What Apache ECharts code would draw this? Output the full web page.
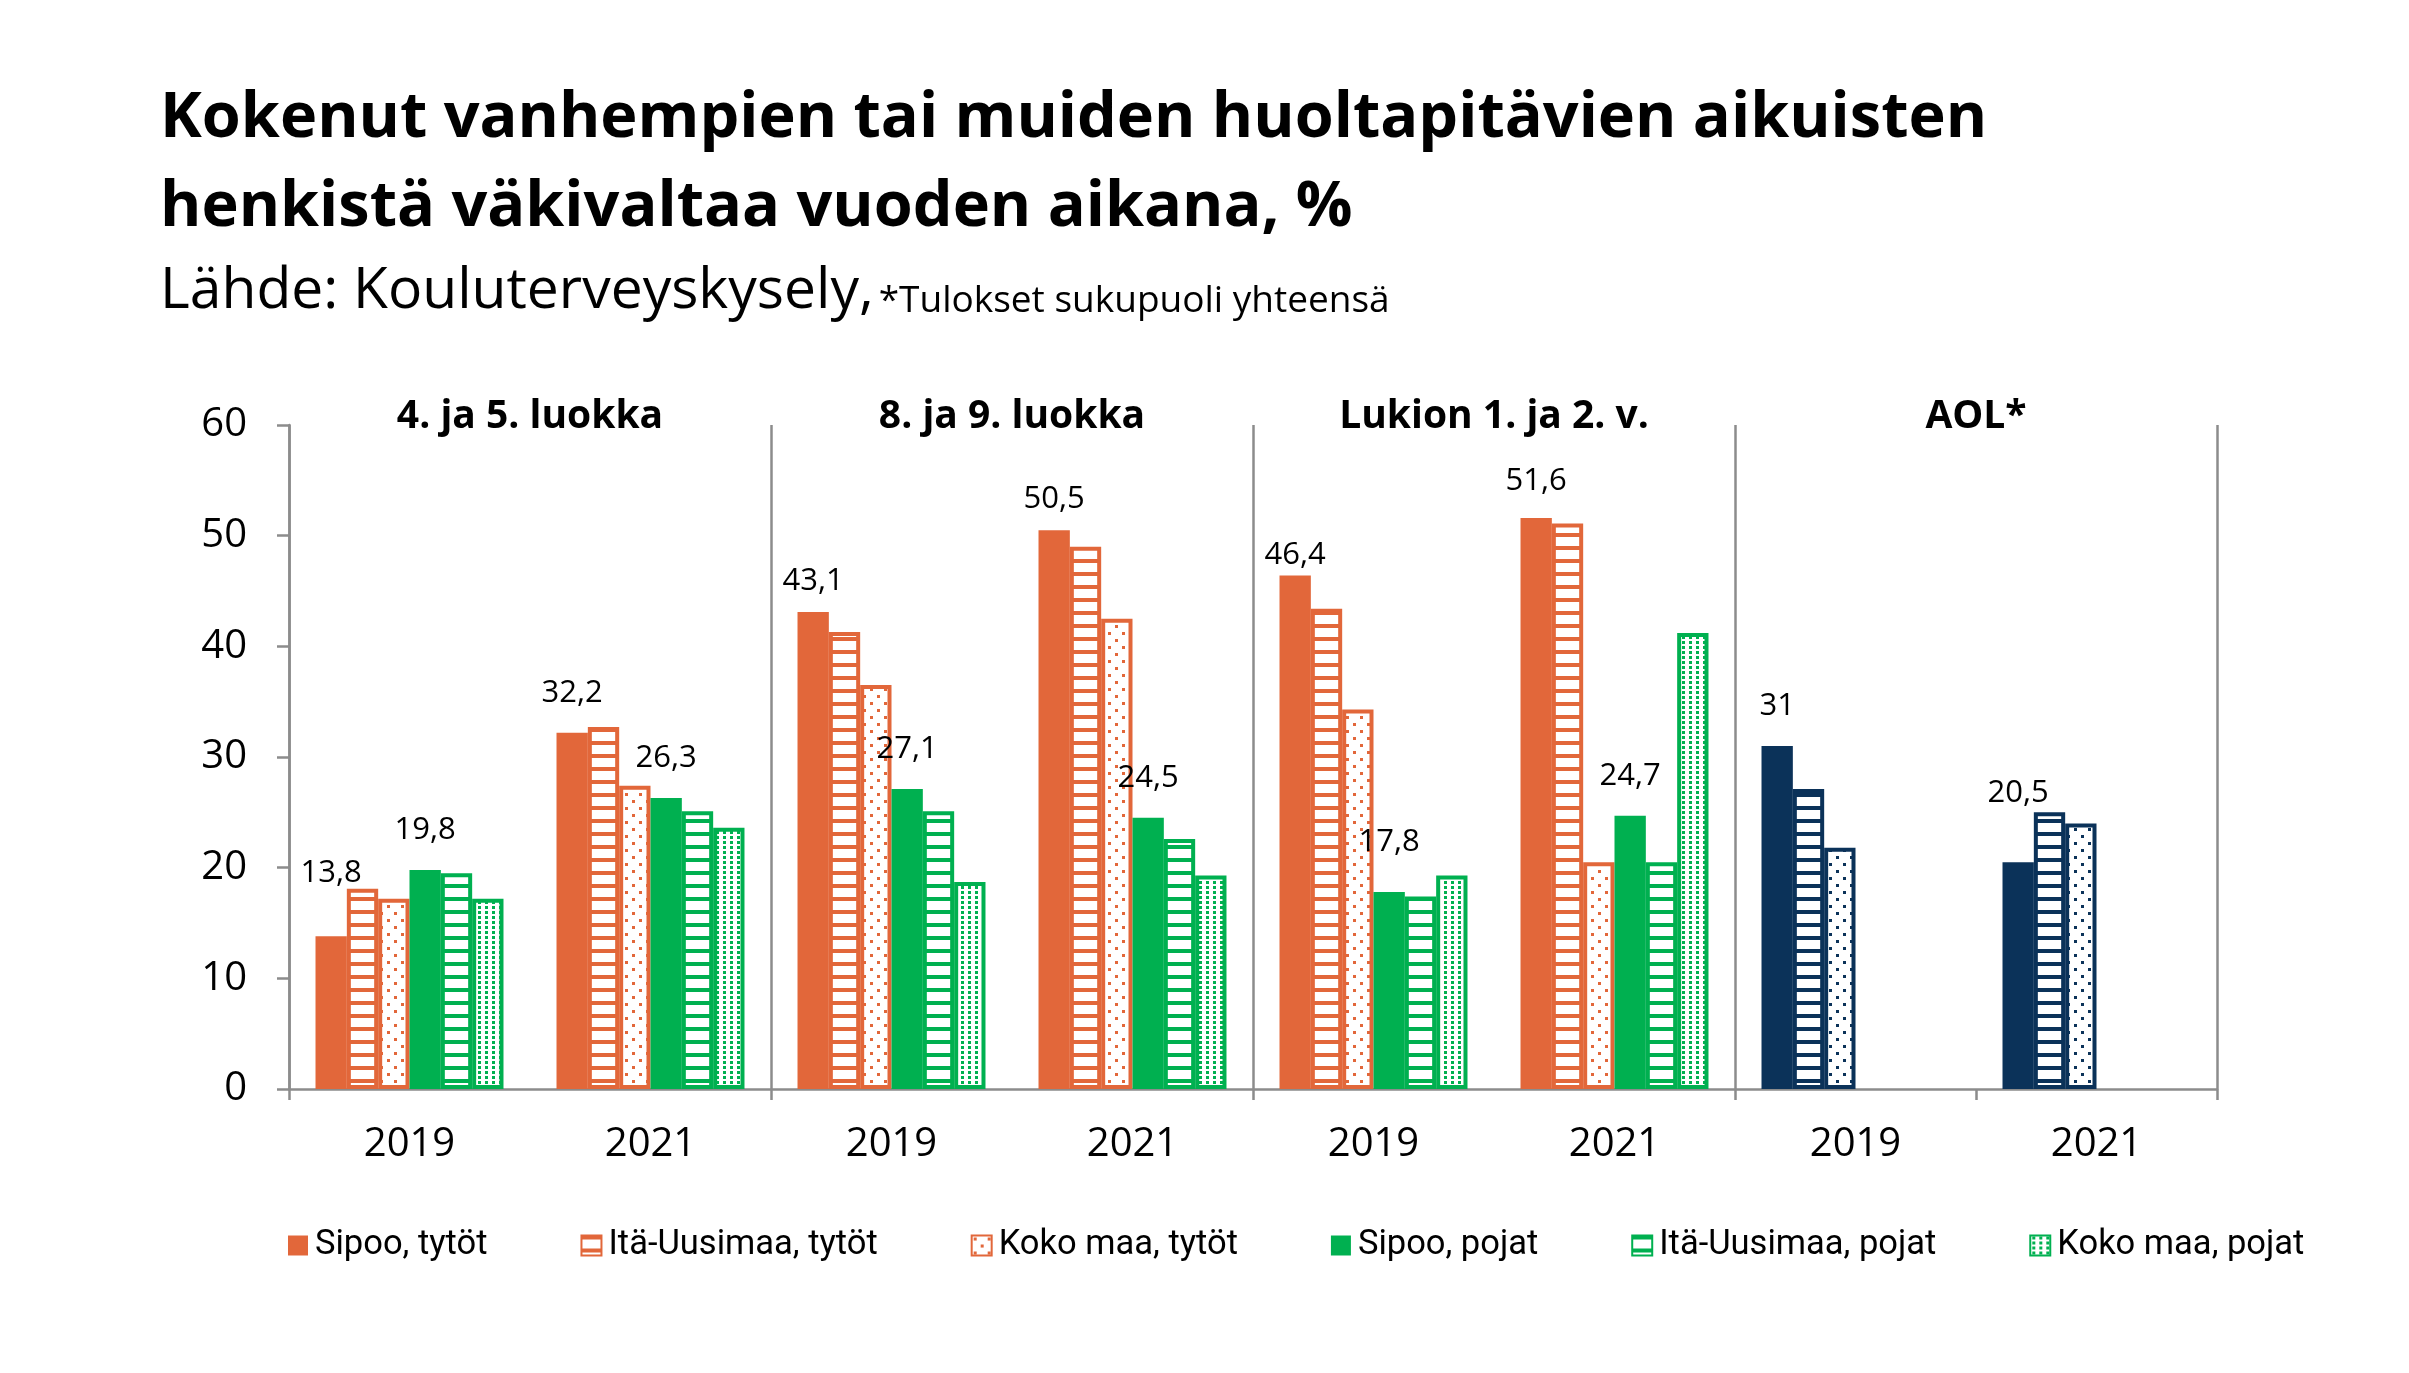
<!DOCTYPE html>
<html><head><meta charset="utf-8">
<script src="https://cdn.jsdelivr.net/npm/echarts@6/dist/echarts.min.js"></script>
<style>html,body{margin:0;padding:0;background:#fff}#c{width:2409px;height:1373px}</style>
</head><body><div id="c"></div>
<script>
// ---------- DATA ----------
const categories = ['2019', '2021', '2019', '2021', '2019', '2021', '2019', '2021'];
const panelTitles = ['4. ja 5. luokka', '8. ja 9. luokka', 'Lukion 1. ja 2. v.', 'AOL*'];
const seriesNames = ['Sipoo, tytöt', 'Itä-Uusimaa, tytöt', 'Koko maa, tytöt', 'Sipoo, pojat', 'Itä-Uusimaa, pojat', 'Koko maa, pojat'];
// school-level panels: 4.-5. (2019, 2021), 8.-9. (2019, 2021), Lukio (2019, 2021)
const sipooTytot      = [13.8, 32.2, 43.1, 50.5, 46.4, 51.6];
const itaUusimaaTytot = [18.1, 32.7, 41.3, 49.0, 43.4, 51.1];
const kokoMaaTytot    = [17.2, 27.4, 36.5, 42.5, 34.3, 20.5];
const sipooPojat      = [19.8, 26.3, 27.1, 24.5, 17.8, 24.7];
const itaUusimaaPojat = [19.5, 25.1, 25.1, 22.6, 17.4, 20.5];
const kokoMaaPojat    = [17.2, 23.6, 18.7, 19.3, 19.3, 41.2];
// AOL (sukupuoli yhteensä): 2019, 2021
const aolSipoo      = [31, 20.5];
const aolItaUusimaa = [27.1, 25.0];
const aolKokoMaa    = [21.8, 24.0];
const yTicks = [0, 10, 20, 30, 40, 50, 60];

// ---------- STYLE ----------
const F = "'Open Sans', sans-serif";
const ORANGE = '#E2673A', GREEN = '#00B050', NAVY = '#0B3259', AXIS = '#8C8C8C';

function makePattern(color, kind) {
  const c = document.createElement('canvas');
  let w = 8, h = 13;
  if (kind === 'dots') { w = 14; h = 14; }
  if (kind === 'fine') { w = 7; h = 5; }
  c.width = w; c.height = h;
  const g = c.getContext('2d');
  g.fillStyle = '#fff'; g.fillRect(0, 0, w, h);
  g.fillStyle = color;
  if (kind === 'stripes') g.fillRect(0, 0, w, 4);
  else if (kind === 'dots') { g.fillRect(2, 2, 3, 3); g.fillRect(9, 9, 3, 3); }
  else g.fillRect(2, 1, 3, 3);
  return { image: c, repeat: 'repeat' };
}
function styleFor(color, kind) {
  if (kind === 'solid') return { color: color, borderWidth: 0 };
  return { color: makePattern(color, kind), borderColor: color, borderWidth: 4 };
}

const groupVals = [sipooTytot, itaUusimaaTytot, kokoMaaTytot, sipooPojat, itaUusimaaPojat, kokoMaaPojat];
const aolVals = [aolSipoo, aolItaUusimaa, aolKokoMaa];
const kinds = ['solid', 'stripes', 'dots', 'solid', 'stripes', 'fine'];
const aolKinds = ['solid', 'stripes', 'dots'];
const sColors = [ORANGE, ORANGE, ORANGE, GREEN, GREEN, GREEN];
const labelled = [true, false, false, true, false, false];
// label lift above bar top (placement of the original's labels)
const labelLift = { '0-0': 48, '0-2': 15, '0-3': 15, '0-4': 5, '0-5': 21, '3-4': 34, '0-7': 53 };

const fmt = p => String(p.value).replace('.', ',');

const series = groupVals.map((vals, si) => {
  const data = [];
  for (let ci = 0; ci < categories.length; ci++) {
    let item;
    if (ci < vals.length) {
      item = { value: vals[ci] };
    } else if (si < 3) {
      item = { value: aolVals[si][ci - vals.length], itemStyle: styleFor(NAVY, aolKinds[si]) };
    } else {
      item = { value: null };
    }
    const key = si + '-' + ci;
    if (labelled[si] && labelLift[key] !== undefined) item.label = { distance: labelLift[key] };
    data.push(item);
  }
  return {
    name: seriesNames[si], type: 'bar', data: data,
    barGap: '0%', barCategoryGap: '22%',
    itemStyle: styleFor(sColors[si], kinds[si]),
    label: { show: labelled[si], position: 'top', distance: 24, fontSize: 31, color: '#000', fontFamily: F, formatter: fmt },
    emphasis: { disabled: true }
  };
});

const chart = echarts.init(document.getElementById('c'), null, { renderer: 'canvas' });
chart.setOption({
  animation: false,
  backgroundColor: '#fff',
  title: [
    { text: 'Kokenut vanhempien tai muiden huoltapitävien aikuisten\nhenkistä väkivaltaa vuoden aikana, %',
      left: 160, top: 75, padding: 0,
      textStyle: { fontSize: 63, fontWeight: 'bold', lineHeight: 89, color: '#000', fontFamily: F } },
    { text: '{a|Lähde: Kouluterveyskysely,} {b|*Tulokset sukupuoli yhteensä}',
      left: 160, top: 254, padding: 0,
      textStyle: { fontWeight: 'normal', rich: {
        a: { fontSize: 57, fontWeight: 'normal', lineHeight: 66, verticalAlign: 'bottom', color: '#000', fontFamily: F },
        b: { fontSize: 37, fontWeight: 'normal', lineHeight: 52, verticalAlign: 'bottom', color: '#000', fontFamily: F }
      } } }
  ],
  legend: {
    left: 288, top: 1228, padding: 0, itemWidth: 20, itemHeight: 20, itemGap: 93, icon: 'rect',
    data: seriesNames,
    textStyle: { fontSize: 34.5, color: '#000', fontFamily: "'Roboto', sans-serif", padding: [0, 0, 0, 2] }
  },
  grid: { left: 289, right: 192, top: 425, bottom: 284, containLabel: false, outerBoundsMode: 'none' },
  xAxis: [
    { type: 'category', data: categories, position: 'bottom',
      axisLine: { lineStyle: { color: AXIS, width: 2.5 } },
      axisTick: { show: true, interval: 1, length: 11, lineStyle: { color: AXIS, width: 2.5 } },
      axisLabel: { interval: 0, fontSize: 40, color: '#000', margin: 36, fontFamily: F },
      splitLine: { show: false } },
    { type: 'category', data: panelTitles, position: 'top',
      axisLine: { show: false }, axisTick: { show: false },
      axisLabel: { interval: 0, fontSize: 39, fontWeight: 'bold', color: '#000', margin: 8, verticalAlign: 'middle', fontFamily: F },
      splitLine: { show: true, interval: 0, lineStyle: { color: AXIS, width: 2.5 } } }
  ],
  yAxis: {
    type: 'value', min: yTicks[0], max: yTicks[yTicks.length - 1], interval: yTicks[1] - yTicks[0],
    axisLine: { show: true, lineStyle: { color: AXIS, width: 2.5 } },
    axisTick: { show: true, length: 12, lineStyle: { color: AXIS, width: 2.5 } },
    axisLabel: { fontSize: 40, color: '#000', margin: 42, fontFamily: F },
    splitLine: { show: false }
  },
  series: series
});
</script>
</body></html>
